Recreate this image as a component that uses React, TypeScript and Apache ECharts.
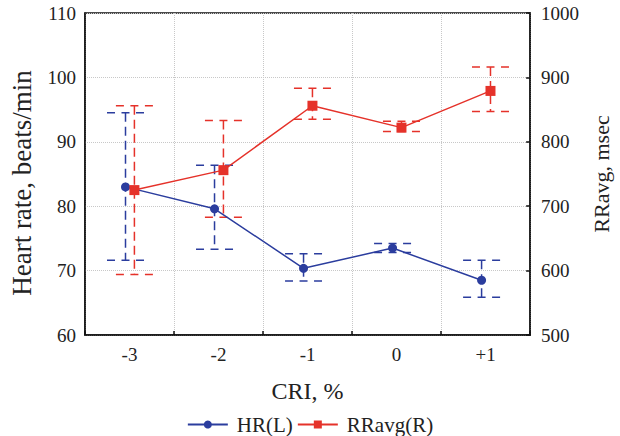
import React, { useEffect, useRef } from "react";
import * as echarts from "echarts";

const categories = ["-3", "-2", "-1", "0", "+1"];
const hrMean = [83.0, 79.6, 70.35, 73.5, 68.5];
const hrUpper = [94.5, 86.35, 72.6, 74.2, 71.6];
const hrLower = [71.6, 73.3, 68.4, 72.8, 65.85];
const rrMean = [725, 756, 856, 822, 879];
const rrUpper = [856, 833, 883, 832, 916];
const rrLower = [594, 683, 835, 816, 847];

const BLUE = "#2b3d9e";
const RED = "#e5322a";
const FONT = "'Liberation Serif', 'Times New Roman', serif";
const HR_OFF = -0.045;
const RR_OFF = 0.055;

function errorBars(color: string) {
  return (params: any, api: any) => {
    const x = api.value(0);
    const lo = api.value(1);
    const hi = api.value(2);
    const pLo = api.coord([x, lo]);
    const pHi = api.coord([x, hi]);
    const hw = 18.5;
    const base = { stroke: color, lineWidth: 1.5, fill: "none" };
    return {
      type: "group",
      children: [
        {
          type: "line",
          shape: { x1: pHi[0], y1: pHi[1], x2: pLo[0], y2: pLo[1] },
          style: { ...base, lineDash: [9, 5] },
        },
        {
          type: "line",
          shape: { x1: pHi[0] - hw, y1: pHi[1], x2: pHi[0] + hw, y2: pHi[1] },
          style: { ...base, lineDash: [8, 6.5] },
        },
        {
          type: "line",
          shape: { x1: pLo[0] - hw, y1: pLo[1], x2: pLo[0] + hw, y2: pLo[1] },
          style: { ...base, lineDash: [8, 6.5] },
        },
      ],
    };
  };
}

export default function App() {
  const ref = useRef<HTMLDivElement>(null);
  useEffect(() => {
    const chart = echarts.init(ref.current!, null, { renderer: "svg" });
    const hrLine = hrMean.map((v, i) => [i + HR_OFF, v]);
    const rrLine = rrMean.map((v, i) => [i + RR_OFF, v]);
    const hrErr = hrMean.map((_, i) => [i + HR_OFF, hrLower[i], hrUpper[i]]);
    const rrErr = rrMean.map((_, i) => [i + RR_OFF, rrLower[i], rrUpper[i]]);
    const gridLine = { show: true, lineStyle: { color: "#c8c8c8", type: "dotted", width: 1 } };
    const axisLine = { show: true, onZero: false, lineStyle: { color: "#111", width: 1.5 } };
    const tick = { show: true, inside: true, length: 4, lineStyle: { color: "#111", width: 1.5 } };
    const label = {
      fontFamily: FONT,
      fontSize: 19,
      color: "#222",
      formatter: (v: any) => String(v),
    };
    chart.setOption({
      animation: false,
      backgroundColor: "#fff",
      textStyle: { fontFamily: FONT },
      grid: { left: 82, right: 86, top: 13, bottom: 101, show: true, borderColor: "#111", borderWidth: 1.5 },
      legend: {
        data: ["HR(L)", "RRavg(R)"],
        top: 409,
        left: "center",
        itemWidth: 40,
        itemHeight: 10,
        itemGap: 4,
        textStyle: { fontFamily: FONT, fontSize: 21, color: "#222", padding: [0, 0, 0, 4] },
      },
      xAxis: [
        {
          type: "category",
          data: categories,
          boundaryGap: true,
          axisLine,
          axisTick: tick,
          splitLine: gridLine,
          axisLabel: { ...label, margin: 10 },
          name: "CRI, %",
          nameLocation: "middle",
          nameGap: 44,
          nameTextStyle: { fontFamily: FONT, fontSize: 24, color: "#222" },
        },
        { type: "value", show: false, min: -0.5, max: 4.5 },
      ],
      yAxis: [
        {
          type: "value",
          min: 60,
          max: 110,
          interval: 10,
          position: "left",
          axisLine,
          axisTick: { show: false },
          splitLine: gridLine,
          axisLabel: { ...label, margin: 9, padding: [5, 0, 0, 0] },
          name: "Heart rate, beats/min",
          nameLocation: "middle",
          nameGap: 50,
          nameTextStyle: { fontFamily: FONT, fontSize: 27, color: "#222", padding: [0, 18, 0, 0] },
        },
        {
          type: "value",
          min: 500,
          max: 1000,
          interval: 100,
          position: "right",
          axisLine,
          axisTick: tick,
          splitLine: { show: false },
          axisLabel: { ...label, margin: 11, padding: [5, 0, 0, 0] },
          name: "RRavg, msec",
          nameLocation: "middle",
          nameGap: 52,
          nameRotate: 90,
          nameTextStyle: { fontFamily: FONT, fontSize: 22, color: "#222" },
        },
      ],
      series: [
        {
          type: "custom",
          name: "hrErr",
          xAxisIndex: 1,
          yAxisIndex: 0,
          data: hrErr,
          encode: { x: 0, y: [1, 2] },
          renderItem: errorBars(BLUE),
          z: 1,
          silent: true,
        },
        {
          type: "custom",
          name: "rrErr",
          xAxisIndex: 1,
          yAxisIndex: 1,
          data: rrErr,
          encode: { x: 0, y: [1, 2] },
          renderItem: errorBars(RED),
          z: 1,
          silent: true,
        },
        {
          type: "line",
          name: "HR(L)",
          xAxisIndex: 1,
          yAxisIndex: 0,
          data: hrLine,
          symbol: "circle",
          symbolSize: 9,
          itemStyle: { color: BLUE },
          lineStyle: { color: BLUE, width: 1.5 },
          z: 3,
        },
        {
          type: "line",
          name: "RRavg(R)",
          xAxisIndex: 1,
          yAxisIndex: 1,
          data: rrLine,
          symbol: "rect",
          symbolSize: 10,
          itemStyle: { color: RED },
          lineStyle: { color: RED, width: 1.5 },
          z: 4,
        },
      ],
    });
    return () => chart.dispose();
  }, []);
  return (
    <div
      ref={ref}
      style={{ position: "fixed", left: 0, top: 0, width: 620, height: 436, background: "#fff" }}
    />
  );
}
